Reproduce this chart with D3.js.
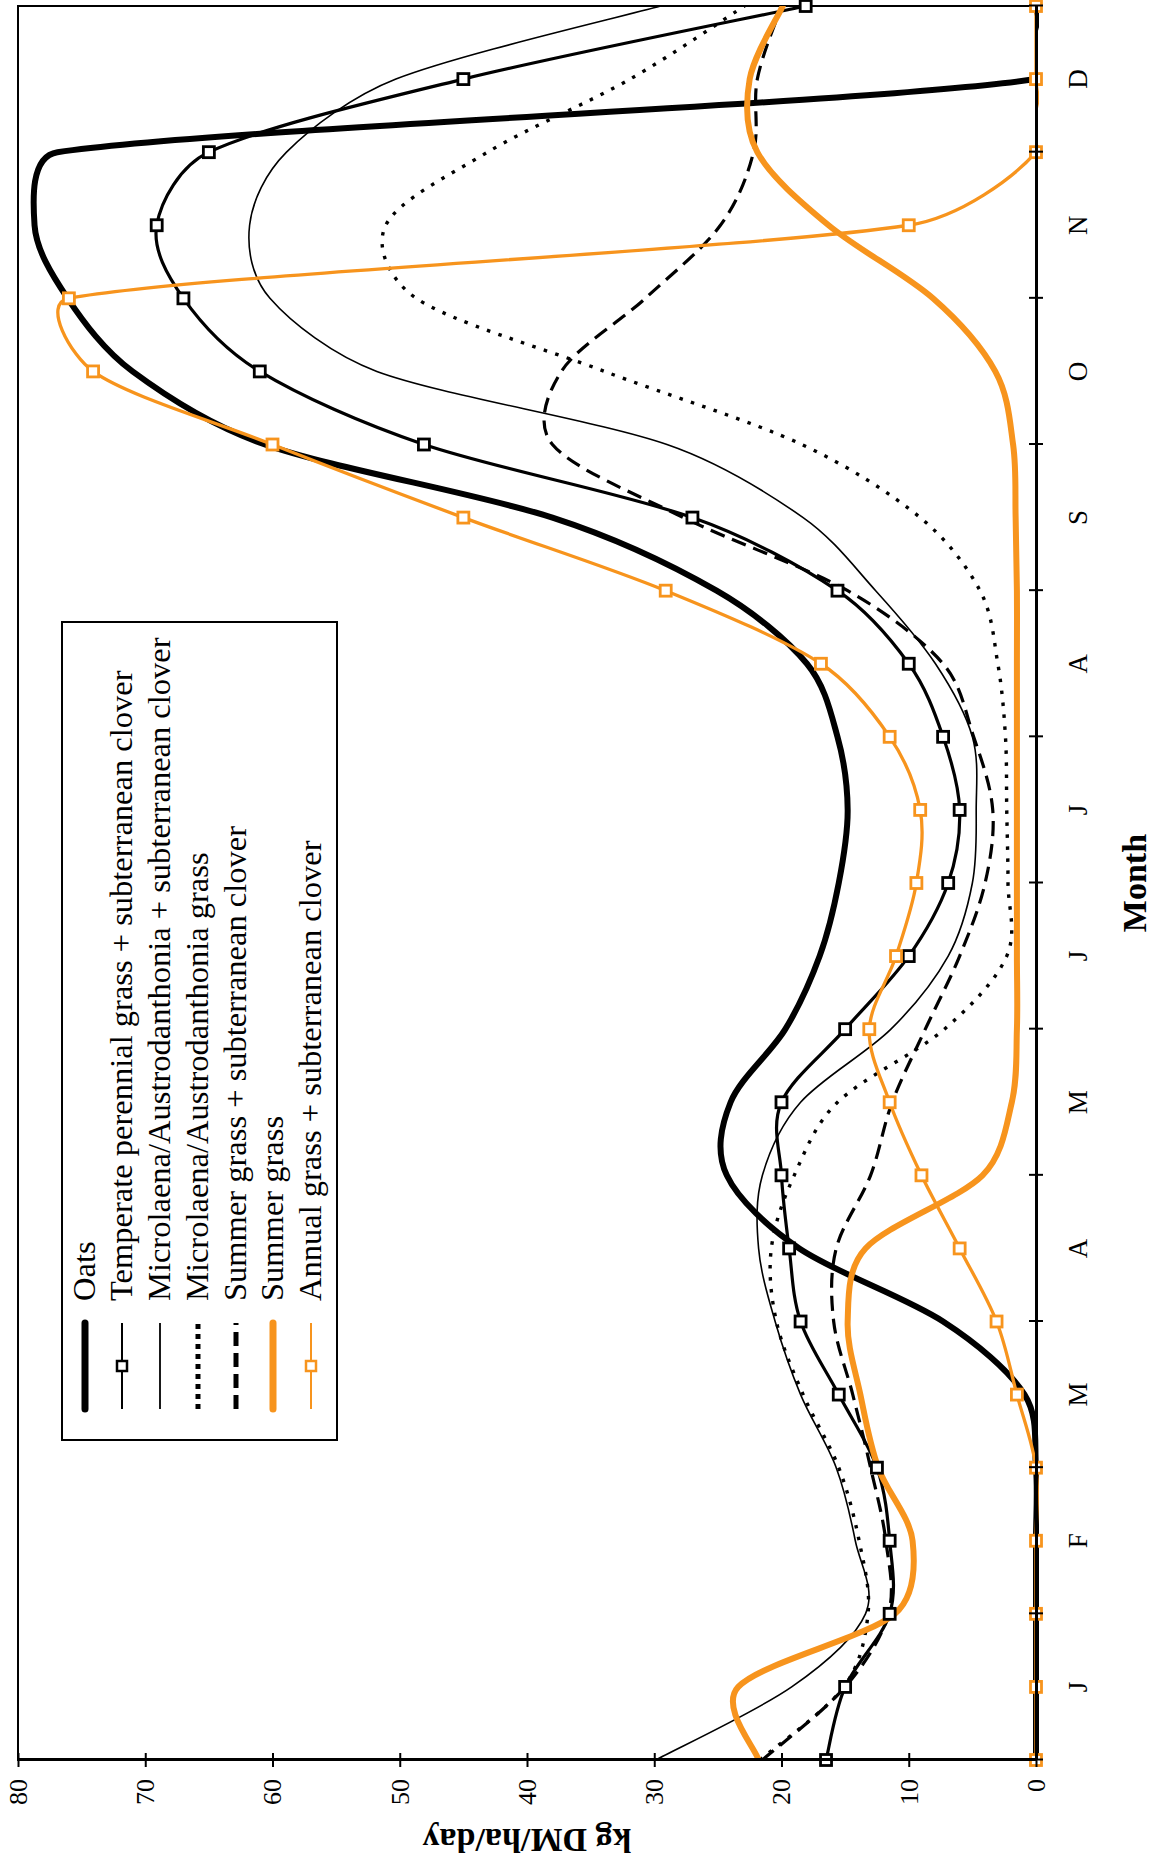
<!DOCTYPE html>
<html>
<head>
<meta charset="utf-8">
<script src="https://cdn.jsdelivr.net/npm/d3@7"></script>
<style>
body{margin:0;background:#fff;}
svg{display:block;font-family:"Liberation Serif","DejaVu Serif",serif;}
</style>
</head>
<body>
<div id="chart"></div>
<script>
// months on x, half-month steps (month units)
var months=["J","F","M","A","M","J","J","A","S","O","N","D"];
var monthTicks=[0,1,2,3,4,5,6,7,8,9,10,11,12];
var steps=[0,0.5,1,1.5,2,2.5,3,3.5,4,4.5,5,5.5,6,6.5,7,7.5,8,8.5,9,9.5,10,10.5,11,11.5,12];
var yTicks=[0,10,20,30,40,50,60,70,80];

var oats=[0,0,0,0,0,0.9,7.3,18.6,24.3,24.0,19.7,17.0,15.5,14.8,15.6,18.0,25.1,38.0,60.6,71.0,76.1,78.7,76.9,0,0];
var temperate=[16.5,15.0,11.5,11.5,12.5,15.5,18.5,19.4,20.0,20.0,15.0,10.0,6.9,6.0,7.3,10.0,15.6,27.0,48.1,61.0,67.0,69.1,65.0,45.0,18.1];
var microClover=[29.9,19.2,13.4,14.2,15.7,18.5,20.5,21.8,21.5,18.5,11.4,6.9,5.0,4.7,5.0,7.9,12.6,18.3,29.0,51.8,60.2,61.8,58.9,50.3,29.5];
var microGrass=[21.7,15.1,13.2,13.9,15.5,18.3,20.4,20.8,19.0,15.6,7.2,2.3,2.2,2.3,2.4,3.0,4.4,9.1,18.4,33.9,48.7,51.1,43.1,31.9,22.9];
var summerClover=[21.5,15.0,11.6,11.8,13.0,14.4,15.9,15.7,13.0,11.3,8.7,6.0,4.0,3.4,4.9,7.3,14.8,27.7,38.0,37.3,30.7,24.8,22.2,21.9,20.0];
var summerGrass=[21.8,23.4,11.1,9.7,12.4,13.8,14.8,13.4,4.2,1.9,1.5,1.5,1.5,1.5,1.5,1.5,1.5,1.6,1.8,3.2,8.1,16.3,21.9,22.5,19.9];
var annual=[0,0,0,0,0,1.5,3.1,6.0,9.0,11.5,13.1,11.0,9.4,9.1,11.5,16.9,29.1,45.0,60.0,74.1,76.0,10.0,0,0,0];

var orange="#f7941d";
var series=[
    {name:"Oats",values:oats,color:"#000",width:6,dash:null,marker:false,cap:"round"},
    {name:"Temperate perennial grass + subterranean clover",values:temperate,color:"#000",width:3.2,dash:null,marker:true,cap:"butt"},
    {name:"Microlaena/Austrodanthonia + subterranean clover",values:microClover,color:"#000",width:1.6,dash:null,marker:false,cap:"butt"},
    {name:"Microlaena/Austrodanthonia grass",values:microGrass,color:"#000",width:3.4,dash:"3.5,8.5",marker:false,cap:"butt"},
    {name:"Summer grass + subterranean clover",values:summerClover,color:"#000",width:3.2,dash:"15,8",marker:false,cap:"butt"},
    {name:"Summer grass",values:summerGrass,color:orange,width:6,dash:null,marker:false,cap:"round"},
    {name:"Annual grass + subterranean clover",values:annual,color:orange,width:3.3,dash:null,marker:true,cap:"butt"}
];

// the chart is drawn upright, then turned 90deg counter-clockwise
var x=d3.scaleLinear().domain([0,12]).range([101,1855]);
var y=d3.scaleLinear().domain([0,80]).range([1036,18]);

// spreadsheet-like smoothing: catmull-rom handles, clamped by segment length
function smoothPath(pts){
    var n=pts.length,T=[],k=0.36;
    for(var i=0;i<n;i++){
        var a=pts[Math.max(i-1,0)],b=pts[Math.min(i+1,n-1)];
        T.push([(b[0]-a[0])/6,(b[1]-a[1])/6]);
    }
    function clamp(t,len){
        var l=Math.sqrt(t[0]*t[0]+t[1]*t[1]);
        if(l<=len||l==0) return t;
        return [t[0]*len/l,t[1]*len/l];
    }
    var p=d3.path();
    p.moveTo(pts[0][0],pts[0][1]);
    for(var j=0;j<n-1;j++){
        var P=pts[j],Q=pts[j+1];
        var d=Math.sqrt((Q[0]-P[0])*(Q[0]-P[0])+(Q[1]-P[1])*(Q[1]-P[1]));
        var h1=clamp(T[j],k*d),h2=clamp(T[j+1],k*d);
        p.bezierCurveTo(P[0]+h1[0],P[1]+h1[1],Q[0]-h2[0],Q[1]-h2[1],Q[0],Q[1]);
    }
    return p.toString();
}

var svg=d3.select("#chart").append("svg")
    .attr("width",1154)
    .attr("height",1861);

var g=svg.append("g")
    .attr("transform","translate(0,1861) rotate(-90)");

g.append("defs").append("clipPath")
    .attr("id","plotClip")
    .append("rect")
    .attr("x",x(0))
    .attr("y",y(80))
    .attr("width",x(12)-x(0))
    .attr("height",y(0)-y(80)+3);

// plot frame
g.append("rect")
    .attr("x",x(0))
    .attr("y",y(80))
    .attr("width",x(12)-x(0))
    .attr("height",y(0)-y(80))
    .style("fill","none")
    .style("stroke","#000")
    .style("stroke-width",2);

var g_lines=g.append("g").attr("clip-path","url(#plotClip)");

series.forEach(function(s){
    var pts=steps.map(function(t,i){return [x(t),y(s.values[i])];});
    g_lines.append("path")
        .attr("d",smoothPath(pts))
        .style("fill","none")
        .style("stroke",s.color)
        .style("stroke-width",s.width)
        .style("stroke-dasharray",s.dash)
        .style("stroke-linejoin","round")
        .style("stroke-linecap",s.cap);
    if(s.marker){
        g.append("g").selectAll("rect")
            .data(pts)
            .enter().append("rect")
            .attr("x",function(d){return d[0]-5.5;})
            .attr("y",function(d){return d[1]-5.5;})
            .attr("width",11)
            .attr("height",11)
            .style("fill","#fff")
            .style("stroke",s.color)
            .style("stroke-width",2.8);
    }
});

// value axis
var yAxis=g.append("g")
    .attr("transform","translate("+x(0)+",0)")
    .call(d3.axisLeft(y).tickValues(yTicks).tickSizeInner(7).tickSizeOuter(0).tickPadding(12));
yAxis.select(".domain").style("stroke-width",3);
yAxis.selectAll(".tick line").attr("x1",7).style("stroke-width",2);
yAxis.selectAll(".tick text")
    .style("font-family","Liberation Serif")
    .style("font-size","26px")
    .style("fill","#000");

// month axis
var xAxis=g.append("g")
    .attr("transform","translate(0,"+y(0)+")")
    .call(d3.axisBottom(x).tickValues(monthTicks).tickFormat("").tickSizeInner(7).tickSizeOuter(0));
xAxis.select(".domain").style("stroke-width",3);
xAxis.selectAll(".tick line").attr("y1",-7).style("stroke-width",2);

g.append("g").selectAll("text")
    .data(months)
    .enter().append("text")
    .attr("x",function(d,i){return x(i+0.5);})
    .attr("y",1087)
    .attr("text-anchor","middle")
    .style("font-size","27px")
    .text(function(d){return d;});

g.append("text")
    .attr("x",x(6))
    .attr("y",1146)
    .attr("text-anchor","middle")
    .style("font-size","34px")
    .style("font-weight","bold")
    .text("Month");

g.append("text")
    .attr("transform","translate(32,"+y(40)+") rotate(-90)")
    .attr("text-anchor","middle")
    .style("font-size","34px")
    .style("font-weight","bold")
    .text("kg DM/ha/day");

// legend
var g_legend=g.append("g");
g_legend.append("rect")
    .attr("x",421)
    .attr("y",62)
    .attr("width",818)
    .attr("height",275)
    .style("fill","#fff")
    .style("stroke","#000")
    .style("stroke-width",2);

var rowY=[85,122,160,198,236,273,311];
var legendDash={"3.5,8.5":"5,5","15,8":"14,7"};
series.forEach(function(s,i){
    var ly=rowY[i];
    g_legend.append("line")
        .attr("x1",452)
        .attr("x2",538)
        .attr("y1",ly)
        .attr("y2",ly)
        .style("stroke",s.color)
        .style("stroke-width",s.dash?5:(s.width>4?7:(s.marker?2:1.8)))
        .style("stroke-dasharray",s.dash?legendDash[s.dash]:null)
        .style("stroke-linecap",s.cap);
    if(s.marker){
        g_legend.append("rect")
            .attr("x",490)
            .attr("y",ly-5)
            .attr("width",10)
            .attr("height",10)
            .style("fill","#fff")
            .style("stroke",s.color)
            .style("stroke-width",2.5);
    }
    g_legend.append("text")
        .attr("x",560)
        .attr("y",ly+10)
        .style("font-size","32.5px")
        .text(s.name);
});
</script>
</body>
</html>
